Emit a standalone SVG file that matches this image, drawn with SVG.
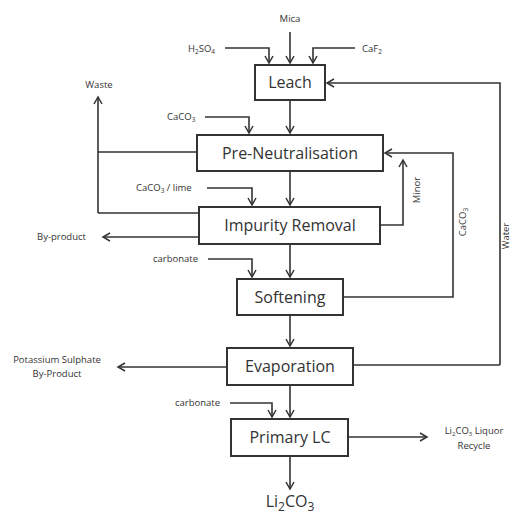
<svg xmlns="http://www.w3.org/2000/svg" width="512" height="518" viewBox="0 0 512 518">
<defs>
<marker id="ah" markerWidth="10" markerHeight="10" refX="8" refY="5" orient="auto" markerUnits="userSpaceOnUse">
<path d="M1,1 L8,5 L1,9" fill="none" stroke="#333" stroke-width="1.5"/>
</marker>
<style>
.box{fill:#fff;stroke:#333;stroke-width:2}
.bt{font-family:"Open Sans","Liberation Sans",sans-serif;font-size:16px;fill:#333;text-anchor:middle}
.lb{font-family:"Open Sans","Liberation Sans",sans-serif;font-size:9.5px;fill:#333}
.ln{fill:none;stroke:#333;stroke-width:1.6}
.ar{fill:none;stroke:#333;stroke-width:1.6;marker-end:url(#ah)}
</style>
</defs>
<rect width="512" height="518" fill="#fff"/>
<g id="connectors">
<path class="ar" d="M290,32 V63"/>
<path class="ar" d="M225,48 H269 V63"/>
<path class="ar" d="M355,48 H313 V63"/>
<path class="ar" d="M500,365 V83 H327"/>
<path class="ln" d="M353,365 H500"/>
<path class="ar" d="M290,100 V133"/>
<path class="ar" d="M205,117 H249 V133"/>
<path class="ar" d="M98,213 V97"/>
<path class="ln" d="M98,152 H197"/>
<path class="ln" d="M98,213 H199"/>
<path class="ar" d="M290,171 V205"/>
<path class="ar" d="M207,188 H252 V205"/>
<path class="ar" d="M199,237 H103"/>
<path class="ar" d="M380,225 H403 V160"/>
<path class="ar" d="M343,297 H453 V153 H385"/>
<path class="ar" d="M290,244 V277"/>
<path class="ar" d="M208,259 H252 V277"/>
<path class="ar" d="M290,315 V346"/>
<path class="ar" d="M227,367 H118"/>
<path class="ar" d="M290,385 V417"/>
<path class="ar" d="M230,403 H272 V417"/>
<path class="ar" d="M348,437 H427"/>
<path class="ar" d="M290,456 V489"/>
</g>
<g id="leach"><rect class="box" x="255" y="65" width="70" height="35"/><text class="bt" x="290" y="88">Leach</text></g>
<g id="preneut"><rect class="box" x="197" y="135" width="186" height="36"/><text class="bt" x="290" y="159">Pre-Neutralisation</text></g>
<g id="impurity"><rect class="box" x="199" y="207" width="181" height="37"/><text class="bt" x="290" y="231">Impurity Removal</text></g>
<g id="softening"><rect class="box" x="237" y="279" width="106" height="36"/><text class="bt" x="290" y="303">Softening</text></g>
<g id="evaporation"><rect class="box" x="227" y="348" width="126" height="37"/><text class="bt" x="290" y="372">Evaporation</text></g>
<g id="primarylc"><rect class="box" x="231" y="419" width="117" height="37"/><text class="bt" x="290" y="443">Primary LC</text></g>
<g id="labels">
<text class="lb" x="290" y="22" text-anchor="middle" font-size="11">Mica</text>
<text class="lb" x="188" y="52">H<tspan font-size="6.5" dy="2">2</tspan><tspan dy="-2">SO</tspan><tspan font-size="6.5" dy="2">4</tspan></text>
<text class="lb" x="362" y="52">CaF<tspan font-size="6.5" dy="2">2</tspan></text>
<text class="lb" x="99" y="88" text-anchor="middle">Waste</text>
<text class="lb" x="167" y="120">CaCO<tspan font-size="6.5" dy="2">3</tspan></text>
<text class="lb" x="136" y="191">CaCO<tspan font-size="6.5" dy="2">3</tspan><tspan dy="-2"> / lime</tspan></text>
<text class="lb" x="37" y="240">By-product</text>
<text class="lb" x="153" y="262">carbonate</text>
<text class="lb" x="175" y="406">carbonate</text>
<text class="lb" x="57" y="363" text-anchor="middle">Potassium Sulphate</text>
<text class="lb" x="57" y="377" text-anchor="middle">By-Product</text>
<text class="lb" x="474" y="434" text-anchor="middle" font-size="9">Li<tspan font-size="6" dy="2">2</tspan><tspan dy="-2">CO</tspan><tspan font-size="6" dy="2">3</tspan><tspan dy="-2">  Liquor</tspan></text>
<text class="lb" x="474" y="449" text-anchor="middle" font-size="9">Recycle</text>
<text class="bt" x="290" y="507" font-size="17">Li<tspan font-size="12" dy="4">2</tspan><tspan dy="-4">CO</tspan><tspan font-size="12" dy="4">3</tspan></text>
<text class="lb" transform="translate(420,190) rotate(-90)" text-anchor="middle">Minor</text>
<text class="lb" transform="translate(466,222) rotate(-90)" text-anchor="middle">CaCO<tspan font-size="6.5" dy="2">3</tspan></text>
<text class="lb" transform="translate(509,236) rotate(-90)" text-anchor="middle">Water</text>
</g>
</svg>
